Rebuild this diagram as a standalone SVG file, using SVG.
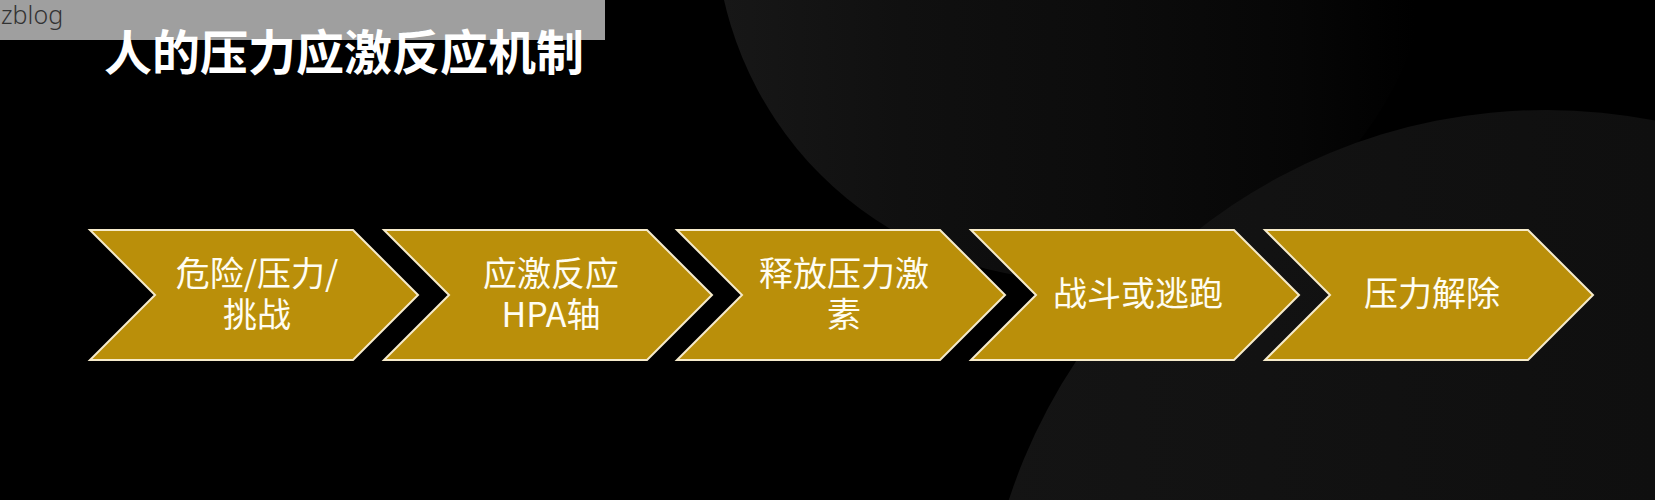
<svg xmlns="http://www.w3.org/2000/svg" width="1655" height="500" viewBox="0 0 1655 500">
  <defs>
    <linearGradient id="g1" gradientUnits="userSpaceOnUse" x1="724" y1="0" x2="1435" y2="0">
      <stop offset="0" stop-color="#171717"/>
      <stop offset="0.25" stop-color="#101010"/>
      <stop offset="0.53" stop-color="#0c0c0c"/>
      <stop offset="0.81" stop-color="#060606"/>
      <stop offset="0.97" stop-color="#000000"/>
    </linearGradient>
    <linearGradient id="g2" gradientUnits="userSpaceOnUse" x1="1000" y1="0" x2="1655" y2="0">
      <stop offset="0" stop-color="#141414"/>
      <stop offset="1" stop-color="#0f0f0f"/>
    </linearGradient>
    <path id="chev" d="M0,230 H263 L328,295 L263,360 H0 L65,295 Z"/>
  </defs>
  <style>
    .chev { fill: #BA8F0A; stroke: #F6EBCB; stroke-width: 2; stroke-linejoin: miter; }
    .lbl { fill: #FFFDF2; font-family: "Noto Sans CJK SC", "Noto Sans", sans-serif; font-size: 34px; text-anchor: middle; }
    .title { fill: #FFFFFF; font-family: "Noto Sans CJK SC", sans-serif; font-size: 48px; font-weight: bold; }
    .wm { fill: #333333; font-family: "Noto Sans", sans-serif; font-size: 25px; font-weight: 300; }
  </style>

  <g id="background">
    <rect x="0" y="0" width="1655" height="500" fill="#000000"/>
    <circle cx="1075" cy="-80" r="360" fill="url(#g1)"/>
    <circle cx="1546" cy="675" r="565" fill="url(#g2)"/>
  </g>

  <g id="watermark">
    <rect x="0" y="0" width="605" height="40" fill="#9F9F9F"/>
    <text class="wm" x="1" y="24">zblog</text>
  </g>

  <g id="title">
    <text class="title" x="104" y="70">人的压力应激反应机制</text>
  </g>

  <g id="connectors"></g>

  <g id="node1">
    <use href="#chev" class="chev" x="90"/>
    <text class="lbl" x="257" y="286">危险/压力/<tspan x="257" dy="41">挑战</tspan></text>
  </g>
  <g id="node2">
    <use href="#chev" class="chev" x="384"/>
    <text class="lbl" x="551" y="286">应激反应<tspan x="551" dy="41">HPA轴</tspan></text>
  </g>
  <g id="node3">
    <use href="#chev" class="chev" x="677"/>
    <text class="lbl" x="844" y="286">释放压力激<tspan x="844" dy="41">素</tspan></text>
  </g>
  <g id="node4">
    <use href="#chev" class="chev" x="971"/>
    <text class="lbl" x="1138" y="306">战斗或逃跑</text>
  </g>
  <g id="node5">
    <use href="#chev" class="chev" x="1265"/>
    <text class="lbl" x="1432" y="306">压力解除</text>
  </g>
</svg>
